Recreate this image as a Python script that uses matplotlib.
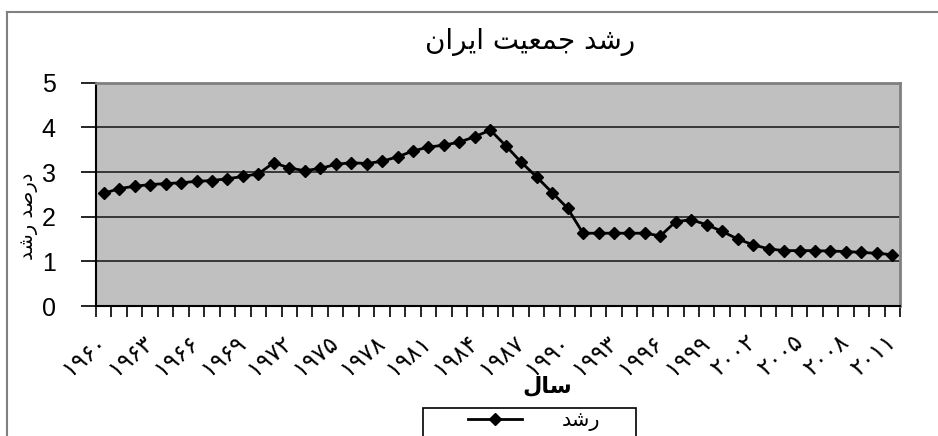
import matplotlib.pyplot as plt
from matplotlib.lines import Line2D
from matplotlib.patches import Rectangle

# population growth rate of Iran, percent per year
years = list(range(1960, 2012))
growth = [2.52, 2.63, 2.68, 2.72, 2.74, 2.76, 2.79, 2.81, 2.85, 2.90,
          2.96, 3.21, 3.09, 3.03, 3.08, 3.17, 3.21, 3.19, 3.24, 3.34,
          3.47, 3.56, 3.60, 3.67, 3.79, 3.94, 3.59, 3.22, 2.89, 2.54,
          2.19, 1.63, 1.63, 1.63, 1.63, 1.63, 1.57, 1.89, 1.93, 1.82,
          1.67, 1.50, 1.37, 1.28, 1.24, 1.24, 1.24, 1.23, 1.22, 1.20,
          1.18, 1.15]
y_ticks = [0, 1, 2, 3, 4, 5]

# persian digits for the year labels, every third year
fa_digits = str.maketrans('0123456789', '۰۱۲۳۴۵۶۷۸۹')
tick_pos = list(range(0, len(years), 3))
tick_labels = [str(years[i]).translate(fa_digits) for i in tick_pos]

# matplotlib does no arabic shaping, so the strings are written
# with presentation forms in visual (left to right) order
title = '\uFEE5\uFE8D\uFEAE\uFEF3\uFE8D \uFE96\uFEF4\uFECC\uFEE4\uFE9F \uFEAA\uFEB7\uFEAD'  # رشد جمعیت ایران
xlabel = '\uFEDD\uFE8E\uFEB3'  # سال
ylabel = '\uFEAA\uFEB7\uFEAD \uFEAA\uFEBB\uFEAD\uFEA9'  # درصد رشد
series_name = '\uFEAA\uFEB7\uFEAD'  # رشد

W, H = 938, 436
fig = plt.figure(figsize=(W / 100, H / 100), dpi=100)

# chart border (runs off the right and bottom edge)
fig.add_artist(Line2D([7 / W, 7 / W], [0, 1 - 12 / H], transform=fig.transFigure,
                      color='#808080', lw=1.5))
fig.add_artist(Line2D([7 / W, 1], [1 - 12 / H, 1 - 12 / H], transform=fig.transFigure,
                      color='#808080', lw=1.5))

ax = fig.add_axes([96 / W, 1 - 306 / H, (900 - 96) / W, (306 - 82.7) / H])
ax.set_facecolor('#c0c0c0')

x = list(range(len(years)))
ax.plot(x, growth, color='black', lw=2, marker='D', ms=6.5, label=series_name)

ax.set_xlim(-0.5, len(years) - 0.5)
ax.set_ylim(0, 5)
ax.set_yticks(y_ticks)
ax.set_yticklabels([str(v) for v in y_ticks], family='Liberation Sans', fontsize=18)
ax.yaxis.grid(True, color='#202020', lw=1.2)
ax.set_axisbelow(True)
ax.tick_params(axis='y', direction='out', length=11, width=1.2, pad=18)

ax.set_xticks([i - 0.5 for i in range(len(years) + 1)], minor=True)
ax.tick_params(axis='x', which='minor', direction='out', length=8, width=1.2)
ax.set_xticks(tick_pos)
ax.set_xticklabels(tick_labels, rotation=40, ha='right', va='center',
                   rotation_mode='anchor', fontsize=17, family='DejaVu Sans')
ax.tick_params(axis='x', which='major', length=0, pad=24)

for s in ('left', 'bottom'):
    ax.spines[s].set_color('black')
    ax.spines[s].set_linewidth(1.5)
for s in ('top', 'right'):
    ax.spines[s].set_color('#808080')
    ax.spines[s].set_linewidth(2)

fig.text(530 / W, 1 - 42 / H, title, ha='center', va='center', fontsize=20,
         family='DejaVu Sans')
fig.text(547 / W, 1 - 386 / H, xlabel, ha='center', va='center', fontsize=16,
         fontweight='bold', family='DejaVu Sans')
fig.text(29 / W, 1 - 216 / H, ylabel, ha='center', va='center', rotation=90,
         fontsize=14, family='DejaVu Sans')

# legend box, cut by the bottom of the image
fig.add_artist(Rectangle((423 / W, 1 - 448 / H), 213 / W, 40 / H,
                         transform=fig.transFigure, facecolor='white',
                         edgecolor='black', lw=1.2))
fig.legend(loc='upper left', bbox_to_anchor=(468 / W, 1 - 410 / H), frameon=False,
           borderpad=0, borderaxespad=0, handlelength=2.6, handletextpad=1.9,
           prop={'family': 'DejaVu Sans', 'size': 15})

fig.savefig('out.png', dpi=100)
